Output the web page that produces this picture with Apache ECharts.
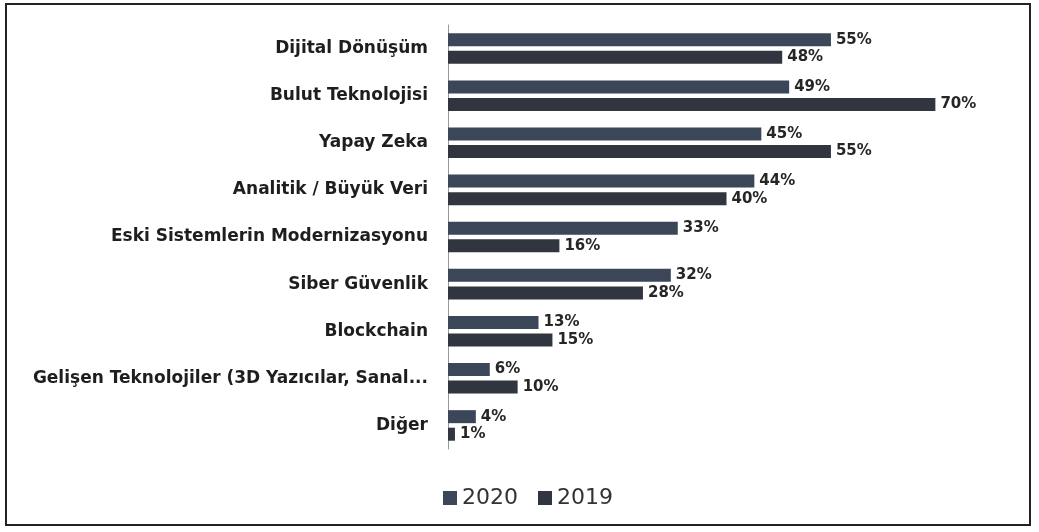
<!DOCTYPE html>
<html>
<head>
<meta charset="utf-8">
<script src="https://cdn.jsdelivr.net/npm/echarts@6/dist/echarts.min.js"></script>
<style>
  html, body { margin: 0; padding: 0; background: #fff; }
  #frame {
    position: absolute; left: 5px; top: 3px; width: 1026px; height: 523px;
    border: 2px solid #222; box-sizing: border-box;
  }
  #main { position: absolute; left: 0; top: 0; width: 1039px; height: 532px; }
</style>
</head>
<body>
<div id="frame"></div>
<div id="main"></div>
<script>
const categories = [
  "Dijital Dönüşüm",
  "Bulut Teknolojisi",
  "Yapay Zeka",
  "Analitik / Büyük Veri",
  "Eski Sistemlerin Modernizasyonu",
  "Siber Güvenlik",
  "Blockchain",
  "Gelişen Teknolojiler (3D Yazıcılar, Sanal...",
  "Diğer"
];
const values2020 = [55, 49, 45, 44, 33, 32, 13, 6, 4];
const values2019 = [48, 70, 55, 40, 16, 28, 15, 10, 1];

const chart = echarts.init(document.getElementById("main"));

const labelStyle = {
  show: true,
  position: "right",
  distance: 5,
  formatter: "{c}%",
  fontFamily: "DejaVu Sans",
  fontWeight: "bold",
  fontSize: 15,
  color: "#262626"
};

chart.setOption({
  animation: false,
  grid: { left: 448, right: 34, top: 25, height: 424 },
  legend: {
    data: ["2020", "2019"],
    top: 482,
    left: 438,
    itemWidth: 14,
    itemHeight: 14,
    itemGap: 20,
    icon: "rect",
    textStyle: { fontFamily: "DejaVu Sans", fontSize: 22, color: "#333" }
  },
  xAxis: {
    type: "value",
    min: 0,
    max: 80,
    show: false
  },
  yAxis: {
    type: "category",
    data: categories,
    inverse: true,
    axisLine: { show: true, lineStyle: { color: "#999", width: 1 } },
    axisTick: { show: false },
    axisLabel: {
      margin: 20,
      fontFamily: "DejaVu Sans",
      fontWeight: "bold",
      fontSize: 17,
      color: "#1e1e1e"
    }
  },
  series: [
    {
      name: "2020",
      type: "bar",
      data: values2020,
      barWidth: 13,
      barGap: "35%",
      itemStyle: { color: "#3b4658" },
      label: labelStyle
    },
    {
      name: "2019",
      type: "bar",
      data: values2019,
      barWidth: 13,
      barGap: "35%",
      itemStyle: { color: "#30353f" },
      label: labelStyle
    }
  ]
});
</script>
</body>
</html>
